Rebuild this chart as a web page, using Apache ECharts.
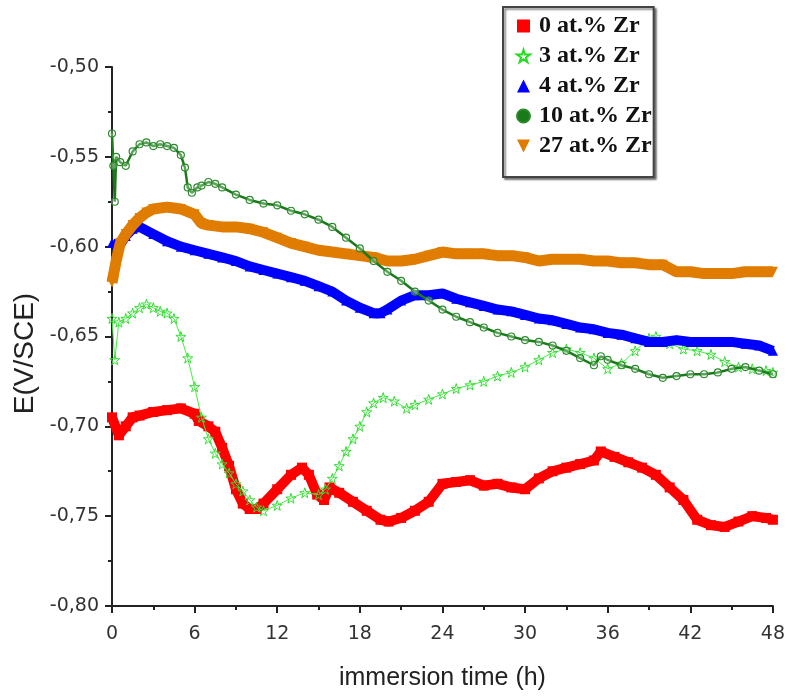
<!DOCTYPE html>
<html>
<head>
<meta charset="utf-8">
<script src="https://cdn.jsdelivr.net/npm/echarts@6/dist/echarts.min.js"></script>
<style>html,body{margin:0;padding:0;background:#fff}#c{width:788px;height:698px}</style>
</head>
<body>
<div id="c"></div>
<script>
// ---- data ----
const seriesNames = ['0 at.% Zr', '3 at.% Zr', '4 at.% Zr', '10 at.% Zr', '27 at.% Zr'];
const xTicks = [0, 6, 12, 18, 24, 30, 36, 42, 48];
const yTicks = [-0.80, -0.75, -0.70, -0.65, -0.60, -0.55, -0.50];

const t0 = [0,0.5,1,1.5,2,3,4,5,6,6.3,7,7.5,8,8.5,9,9.5,10,10.5,11,12,13,13.8,14.3,14.9,15.4,15.8,16.5,17.5,18.5,19.5,20.1,21,22,23,24,25,26,27,28,29,30,31,32,33,34,35,35.5,36.5,37.5,38.5,39.5,40.5,41.5,42.5,43.5,44.5,45.5,46.5,47.5,48];
const v0 = [-0.695,-0.705,-0.700,-0.695,-0.694,-0.692,-0.691,-0.690,-0.693,-0.697,-0.700,-0.703,-0.712,-0.722,-0.735,-0.743,-0.746,-0.746,-0.743,-0.735,-0.727,-0.723,-0.727,-0.738,-0.741,-0.734,-0.737,-0.742,-0.747,-0.752,-0.753,-0.751,-0.747,-0.742,-0.732,-0.731,-0.730,-0.733,-0.732,-0.734,-0.735,-0.729,-0.725,-0.723,-0.721,-0.719,-0.714,-0.717,-0.720,-0.723,-0.727,-0.734,-0.741,-0.752,-0.755,-0.756,-0.753,-0.750,-0.751,-0.752];

const t3 = [0,0.2,0.5,1,1.5,2,2.5,3,3.5,4,4.5,5,5.5,6,6.5,7,7.5,8,8.5,9,9.5,10,10.5,11,12,13,14,15,15.5,16,16.5,17,17.5,18,18.5,19,19.7,20.5,21.4,22,23,24,25,26,27,28,29,30,31,32,33,34,35,36,37,38,39,39.5,40.5,41.5,42.5,43.5,44.5,45.5,46.5,47.5,48];
const v3 = [-0.640,-0.663,-0.642,-0.640,-0.637,-0.634,-0.632,-0.634,-0.636,-0.637,-0.640,-0.650,-0.662,-0.678,-0.695,-0.707,-0.715,-0.721,-0.726,-0.732,-0.736,-0.741,-0.745,-0.747,-0.744,-0.740,-0.737,-0.738,-0.735,-0.729,-0.722,-0.714,-0.707,-0.700,-0.692,-0.687,-0.684,-0.686,-0.690,-0.688,-0.685,-0.682,-0.679,-0.677,-0.675,-0.672,-0.670,-0.667,-0.663,-0.659,-0.657,-0.659,-0.662,-0.668,-0.665,-0.658,-0.651,-0.650,-0.654,-0.657,-0.658,-0.660,-0.664,-0.667,-0.668,-0.669,-0.670];

const t4 = [0,0.5,1,1.5,2,3,4,5,6,7,8,9,10,11,12,13,14,15,16,17,18,19,19.5,20,21,22,23,24,25,26,27,28,29,30,31,32,33,34,35,36,37,38,39,40,41,42,43,44,45,46,47,48];
const v4 = [-0.598,-0.600,-0.594,-0.590,-0.589,-0.593,-0.597,-0.600,-0.602,-0.604,-0.606,-0.608,-0.611,-0.613,-0.615,-0.617,-0.619,-0.622,-0.625,-0.630,-0.634,-0.637,-0.637,-0.635,-0.630,-0.627,-0.627,-0.626,-0.629,-0.631,-0.633,-0.635,-0.636,-0.638,-0.640,-0.641,-0.643,-0.645,-0.646,-0.648,-0.649,-0.651,-0.653,-0.653,-0.652,-0.653,-0.653,-0.653,-0.653,-0.654,-0.655,-0.658];

const t10 = [0,0.1,0.2,0.3,0.6,1,1.5,2,2.5,3,3.5,4,4.5,5,5.3,5.5,5.8,6.2,6.5,7,7.5,8,9,10,11,12,13,14,15,16,17,18,19,20,21,22,23,24,25,26,27,28,29,30,31,32,33,34,35,35.5,36,37,38,39,40,41,42,43,44,45,46,47,48];
const v10 = [-0.537,-0.555,-0.575,-0.550,-0.553,-0.555,-0.547,-0.543,-0.542,-0.544,-0.543,-0.544,-0.545,-0.549,-0.556,-0.567,-0.570,-0.567,-0.566,-0.564,-0.565,-0.567,-0.571,-0.574,-0.576,-0.577,-0.580,-0.582,-0.585,-0.589,-0.595,-0.601,-0.608,-0.614,-0.619,-0.625,-0.630,-0.635,-0.639,-0.642,-0.645,-0.648,-0.650,-0.652,-0.653,-0.655,-0.658,-0.662,-0.666,-0.661,-0.663,-0.666,-0.668,-0.671,-0.673,-0.672,-0.671,-0.671,-0.670,-0.668,-0.667,-0.669,-0.671];

const t27 = [0,0.3,0.6,1,1.5,2,2.5,3,4,5,6,6.5,7,8,9,10,11,12,13,14,15,16,17,18,19,20,21,22,23,24,25,26,27,28,29,30,31,32,33,34,35,36,37,38,39,40,41,42,43,44,45,46,47,48];
const v27 = [-0.620,-0.608,-0.598,-0.593,-0.588,-0.584,-0.581,-0.579,-0.578,-0.579,-0.582,-0.587,-0.588,-0.589,-0.589,-0.590,-0.592,-0.595,-0.598,-0.600,-0.602,-0.603,-0.604,-0.605,-0.606,-0.608,-0.608,-0.607,-0.605,-0.603,-0.604,-0.604,-0.604,-0.605,-0.605,-0.606,-0.608,-0.607,-0.607,-0.607,-0.608,-0.608,-0.609,-0.609,-0.610,-0.610,-0.614,-0.614,-0.615,-0.615,-0.615,-0.614,-0.614,-0.614];

const pairs = (t, v) => t.map((x, i) => [x, v[i]]);
const STAR = 'path://M50,0 L61,35 L98,35 L68,57 L79,91 L50,70 L21,91 L32,57 L2,35 L39,35 Z';
const DOWN = 'path://M0,0 L100,0 L50,100 Z';

const chart = echarts.init(document.getElementById('c'), null, {renderer: 'canvas'});
chart.setOption({
  animation: false,
  backgroundColor: '#fff',
  grid: {left: 112, right: 12, top: 67, bottom: 92},
  legend: {
    orient: 'vertical', left: 503, top: 7,
    padding: [7, 2, 19, 13], itemGap: 6,
    itemWidth: 13, itemHeight: 13,
    backgroundColor: '#fff',
    borderColor: '#444', borderWidth: 2,
    shadowColor: 'rgba(0,0,0,0.45)', shadowBlur: 2, shadowOffsetX: 2, shadowOffsetY: 2,
    textStyle: {fontFamily: 'Liberation Serif', fontWeight: 'bold', fontSize: 24, color: '#111', padding: [0, 0, 0, 4]},
    data: [
      {name: seriesNames[0], icon: 'rect', itemStyle: {color: '#ff0000'}},
      {name: seriesNames[1], icon: STAR, itemStyle: {color: '#fff', borderColor: '#22dd22', borderWidth: 2}},
      {name: seriesNames[2], icon: 'triangle', itemStyle: {color: '#0000ff'}},
      {name: seriesNames[3], icon: 'circle', itemStyle: {color: '#1a7a1a'}},
      {name: seriesNames[4], icon: DOWN, itemStyle: {color: '#e07c00'}}
    ]
  },
  xAxis: {
    type: 'value', min: 0, max: 48, interval: 6,
    name: 'immersion time (h)', nameLocation: 'middle', nameGap: 60,
    nameTextStyle: {fontFamily: 'Liberation Sans', fontSize: 25, color: '#222'},
    axisLine: {onZero: false, lineStyle: {color: '#222', width: 2}},
    axisTick: {inside: false, length: 7, lineStyle: {color: '#222', width: 2}},
    minorTick: {show: true, splitNumber: 2, length: 4, lineStyle: {color: '#222', width: 2}},
    axisLabel: {fontFamily: 'DejaVu Sans', fontSize: 19, color: '#333', margin: 19,
      formatter: v => xTicks.includes(v) ? String(v) : ''},
    splitLine: {show: false}
  },
  yAxis: {
    type: 'value', min: -0.80, max: -0.50, interval: 0.05,
    name: 'E(V/SCE)', nameLocation: 'middle', nameGap: 67, nameRotate: 90,
    nameTextStyle: {fontFamily: 'Liberation Sans', fontSize: 28, color: '#222', padding: [0, 34, 0, 0]},
    axisLine: {show: true, lineStyle: {color: '#222', width: 2}},
    axisTick: {show: true, inside: false, length: 7, lineStyle: {color: '#222', width: 2}},
    minorTick: {show: true, splitNumber: 2, length: 4, lineStyle: {color: '#222', width: 2}},
    axisLabel: {fontFamily: 'DejaVu Sans', fontSize: 19, color: '#333', margin: 13,
      formatter: v => yTicks.some(t => Math.abs(t - v) < 1e-6) ? v.toFixed(2).replace('.', ',') : ''},
    splitLine: {show: false}
  },
  series: [
    {name: seriesNames[0], type: 'line', data: pairs(t0, v0), z: 2,
      symbol: 'rect', symbolSize: 10, showAllSymbol: true,
      lineStyle: {color: '#ff0000', width: 10}, itemStyle: {color: '#ff0000'}},
    {name: seriesNames[1], type: 'line', data: pairs(t3, v3), z: 3,
      symbol: STAR, symbolSize: 10, showAllSymbol: true,
      lineStyle: {color: '#44ee44', width: 1}, itemStyle: {color: 'rgba(255,255,255,0)', borderColor: '#33dd33', borderWidth: 1}},
    {name: seriesNames[2], type: 'line', data: pairs(t4, v4), z: 4,
      symbol: 'triangle', symbolSize: 10, showAllSymbol: true,
      lineStyle: {color: '#0000ff', width: 10}, itemStyle: {color: '#0000ff'}},
    {name: seriesNames[4], type: 'line', data: pairs(t27, v27), z: 5,
      symbol: DOWN, symbolSize: 10, showAllSymbol: true,
      lineStyle: {color: '#e07c00', width: 11}, itemStyle: {color: '#e07c00'}},
    {name: seriesNames[3], type: 'line', data: pairs(t10, v10), z: 6,
      symbol: 'circle', symbolSize: 7, showAllSymbol: true,
      lineStyle: {color: '#1a7a1a', width: 2.5}, itemStyle: {color: 'rgba(255,255,255,0.3)', borderColor: '#2a8a2a', borderWidth: 1.2}}
  ]
});
</script>
</body>
</html>
